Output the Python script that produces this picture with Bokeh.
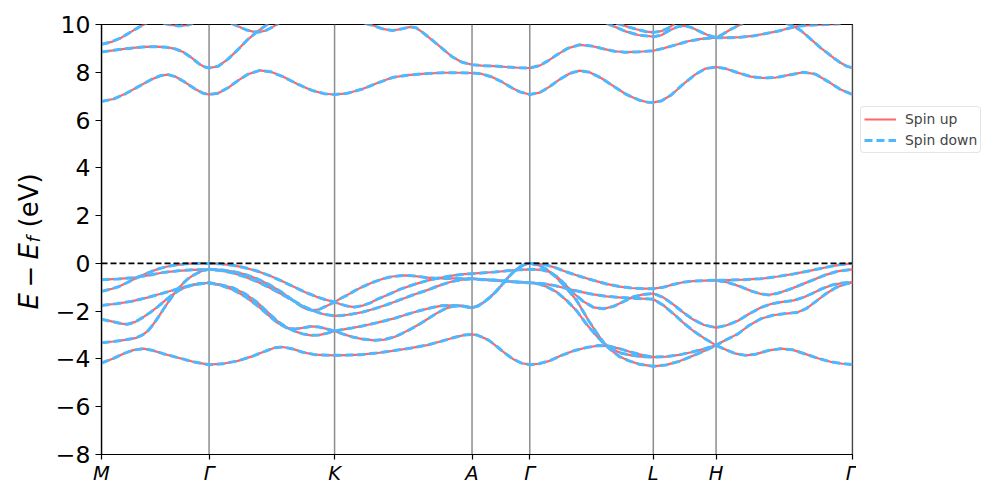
import math
from bokeh.plotting import figure
from bokeh.layouts import row
from bokeh.models import Range1d, FixedTicker, Span, Legend, LegendItem, Label
from bokeh.embed import file_html
from bokeh.resources import INLINE

# high-symmetry points along the k-path
kpt_pos = [0.00, 1.08, 2.34, 3.72, 4.30, 5.54, 6.17, 7.54]
kpt_labels = ["M", "Γ", "K", "A", "Γ", "L", "H", "Γ"]
y_ticks = [-8, -6, -4, -2, 0, 2, 4, 6, 8, 10]
y_tick_labels = ["−8", "−6", "−4", "−2", "0", "2", "4", "6", "8", "10"]
series_labels = ["Spin up", "Spin down"]

# valence bands (k, E - Ef)
b1 = [(0.00,-1.17),(0.09,-1.08),(0.17,-0.98),(0.25,-0.82),(0.33,-0.65),(0.42,-0.48),(0.50,-0.34),(0.58,-0.22),(0.66,-0.13),(0.74,-0.07),(0.84,-0.02),(0.96,0.0),(1.08,0.0),
      (1.20,-0.02),(1.32,-0.08),(1.44,-0.18),(1.56,-0.32),(1.68,-0.50),(1.80,-0.72),(1.92,-0.96),(2.04,-1.20),(2.16,-1.40),(2.25,-1.52),(2.34,-1.62),
      (2.40,-1.71),(2.47,-1.79),(2.54,-1.83),(2.62,-1.77),(2.70,-1.65),(2.77,-1.50),(2.87,-1.32),(3.00,-1.08),(3.14,-0.88),(3.27,-0.72),(3.40,-0.60),(3.54,-0.50),(3.64,-0.45),(3.72,-0.43),
      (3.82,-0.40),(3.95,-0.36),(4.07,-0.31),(4.19,-0.27),(4.30,-0.25),
      (4.42,-0.27),(4.50,-0.36),(4.58,-0.58),(4.66,-0.90),(4.74,-1.25),(4.84,-1.60),(4.94,-1.84),(5.04,-1.90),(5.14,-1.80),(5.24,-1.60),(5.34,-1.40),(5.44,-1.30),(5.54,-1.26),
      (5.64,-1.42),(5.74,-1.72),(5.84,-2.05),(5.94,-2.35),(6.05,-2.58),(6.17,-2.69),
      (6.27,-2.60),(6.39,-2.40),(6.50,-2.12),(6.62,-1.85),(6.72,-1.70),(6.82,-1.62),(6.95,-1.55),(7.05,-1.42),(7.14,-1.25),(7.24,-1.05),(7.34,-0.90),(7.44,-0.82),(7.54,-0.78)]

b2 = [(0.00,-0.68),(0.17,-0.65),(0.32,-0.60),(0.47,-0.50),(0.62,-0.38),(0.77,-0.31),(0.92,-0.27),(1.08,-0.25),
      (1.20,-0.27),(1.32,-0.34),(1.44,-0.46),(1.56,-0.64),(1.68,-0.88),(1.80,-1.18),(1.90,-1.48),(1.98,-1.72),(2.05,-1.90),(2.12,-1.97),(2.19,-1.92),(2.26,-1.78),(2.34,-1.62),
      (2.40,-1.47),(2.47,-1.32),(2.54,-1.15),(2.62,-0.98),(2.72,-0.80),(2.82,-0.65),(2.92,-0.55),(3.04,-0.50),(3.15,-0.53),(3.27,-0.60),(3.39,-0.63),(3.52,-0.63),(3.62,-0.64),(3.72,-0.64),
      (3.82,-0.67),(3.95,-0.70),(4.07,-0.74),(4.19,-0.78),(4.30,-0.81),
      (4.42,-0.84),(4.54,-0.92),(4.67,-1.05),(4.80,-1.18),(4.94,-1.30),(5.07,-1.38),(5.22,-1.43),(5.38,-1.47),(5.54,-1.50),
      (5.64,-1.75),(5.74,-2.10),(5.84,-2.48),(5.94,-2.82),(6.05,-3.13),(6.17,-3.43),
      (6.27,-3.20),(6.39,-2.95),(6.50,-2.60),(6.62,-2.32),(6.74,-2.17),(6.87,-2.10),(6.99,-2.05),(7.08,-1.88),(7.17,-1.60),(7.27,-1.28),(7.37,-1.02),(7.47,-0.86),(7.54,-0.80)]

b3 = [(0.00,-3.32),(0.12,-3.27),(0.24,-3.20),(0.34,-3.13),(0.41,-3.00),(0.47,-2.81),(0.52,-2.55),(0.57,-2.25),(0.62,-1.93),(0.67,-1.62),(0.72,-1.33),(0.77,-1.06),(0.82,-0.83),(0.87,-0.64),(0.92,-0.50),(0.97,-0.39),(1.02,-0.30),(1.08,-0.25),
      (1.20,-0.30),(1.32,-0.40),(1.44,-0.56),(1.56,-0.76),(1.68,-1.00),(1.80,-1.27),(1.92,-1.55),(2.02,-1.78),(2.12,-1.97),(2.22,-2.12),(2.34,-2.20),
      (2.42,-2.18),(2.52,-2.12),(2.62,-2.04),(2.74,-1.90),(2.87,-1.72),(3.00,-1.52),(3.14,-1.30),(3.27,-1.12),(3.39,-0.93),(3.50,-0.78),(3.60,-0.69),(3.72,-0.64),
      (3.82,-0.68),(3.95,-0.71),(4.07,-0.75),(4.19,-0.79),(4.30,-0.81),
      (4.39,-0.86),(4.47,-0.98),(4.57,-1.20),(4.67,-1.55),(4.77,-1.98),(4.87,-2.55),(4.95,-2.94),(5.05,-3.38),(5.12,-3.64),(5.20,-3.90),(5.29,-4.07),(5.40,-4.22),(5.54,-4.31),
      (5.67,-4.25),(5.80,-4.10),(5.92,-3.90),(6.05,-3.67),(6.17,-3.43),
      (6.27,-3.62),(6.37,-3.78),(6.47,-3.85),(6.57,-3.80),(6.70,-3.64),(6.82,-3.57),(6.94,-3.62),(7.07,-3.80),(7.20,-3.98),(7.32,-4.12),(7.44,-4.20),(7.54,-4.23)]

b4 = [(0.00,-1.76),(0.15,-1.69),(0.30,-1.59),(0.47,-1.42),(0.64,-1.22),(0.80,-1.02),(0.97,-0.86),(1.08,-0.81),
      (1.20,-0.90),(1.32,-1.02),(1.44,-1.27),(1.56,-1.62),(1.67,-2.05),(1.77,-2.43),(1.86,-2.68),(1.94,-2.84),(2.02,-2.95),(2.10,-3.01),(2.18,-3.00),(2.26,-2.93),(2.34,-2.83),
      (2.42,-2.77),(2.52,-2.70),(2.62,-2.62),(2.77,-2.48),(2.94,-2.30),(3.07,-2.13),(3.20,-1.97),(3.32,-1.85),(3.42,-1.77),(3.54,-1.76),(3.63,-1.80),(3.72,-1.86),
      (3.78,-1.78),(3.84,-1.62),(3.90,-1.42),(3.96,-1.18),(4.02,-0.90),(4.08,-0.60),(4.14,-0.34),(4.20,-0.15),(4.25,-0.04),(4.30,0.00),
      (4.39,-0.02),(4.47,-0.07),(4.57,-0.20),(4.67,-0.36),(4.80,-0.54),(4.94,-0.71),(5.07,-0.86),(5.20,-0.97),(5.32,-1.03),(5.44,-1.06),(5.54,-1.06),
      (5.64,-1.00),(5.74,-0.88),(5.84,-0.79),(5.94,-0.74),(6.05,-0.72),(6.17,-0.71),
      (6.30,-0.70),(6.45,-0.68),(6.62,-0.64),(6.79,-0.55),(6.95,-0.44),(7.12,-0.30),(7.29,-0.15),(7.42,-0.05),(7.54,0.00)]

b5 = [(0.00,-2.34),(0.10,-2.43),(0.20,-2.52),(0.26,-2.55),(0.34,-2.45),(0.42,-2.25),(0.50,-2.02),(0.57,-1.80),(0.64,-1.55),(0.71,-1.32),(0.78,-1.12),(0.86,-0.97),(0.94,-0.87),(1.08,-0.81),
      (1.20,-0.92),(1.32,-1.10),(1.44,-1.38),(1.56,-1.75),(1.67,-2.15),(1.77,-2.50),(1.86,-2.70),(1.94,-2.75),(2.02,-2.70),(2.10,-2.64),(2.18,-2.66),(2.26,-2.74),(2.34,-2.83),
      (2.42,-2.95),(2.52,-3.08),(2.62,-3.17),(2.74,-3.22),(2.84,-3.19),(2.94,-3.08),(3.02,-2.93),(3.10,-2.76),(3.19,-2.55),(3.27,-2.34),(3.36,-2.10),(3.44,-1.92),(3.52,-1.80),(3.60,-1.77),(3.66,-1.80),(3.72,-1.86),
      (3.78,-1.78),(3.84,-1.62),(3.90,-1.42),(3.96,-1.18),(4.02,-0.90),(4.08,-0.60),(4.14,-0.34),(4.20,-0.15),(4.25,-0.04),(4.30,0.00),
      (4.39,-0.08),(4.47,-0.25),(4.57,-0.60),(4.67,-1.05),(4.77,-1.55),(4.89,-2.39),(4.97,-2.90),(5.05,-3.36),(5.14,-3.62),(5.22,-3.76),(5.32,-3.85),(5.42,-3.90),(5.54,-3.92),
      (5.67,-3.90),(5.80,-3.83),(5.92,-3.72),(6.05,-3.58),(6.17,-3.43)]

b6 = [(0.00,-4.17),(0.12,-3.98),(0.22,-3.78),(0.32,-3.63),(0.42,-3.57),(0.52,-3.65),(0.62,-3.78),(0.77,-3.95),(0.92,-4.12),(1.08,-4.24),
      (1.22,-4.20),(1.37,-4.08),(1.52,-3.88),(1.64,-3.68),(1.74,-3.53),(1.82,-3.50),(1.92,-3.58),(2.02,-3.72),(2.14,-3.82),(2.34,-3.85),
      (2.47,-3.84),(2.60,-3.82),(2.77,-3.75),(2.94,-3.65),(3.10,-3.55),(3.27,-3.42),(3.42,-3.25),(3.54,-3.10),(3.64,-3.00),(3.72,-2.97),
      (3.77,-3.00),(3.83,-3.10),(3.89,-3.22),(3.97,-3.48),(4.05,-3.76),(4.13,-4.00),(4.22,-4.18),(4.30,-4.24),
      (4.39,-4.20),(4.50,-4.08),(4.62,-3.85),(4.74,-3.66),(4.87,-3.52),(4.99,-3.44),(5.09,-3.46),(5.20,-3.57),(5.32,-3.72),(5.44,-3.85),(5.54,-3.92)]

b7 = [(6.17,-0.71),(6.29,-0.80),(6.40,-0.95),(6.52,-1.15),(6.62,-1.28),(6.70,-1.32),(6.79,-1.25),(6.90,-1.10),(7.02,-0.90),(7.14,-0.70),(7.27,-0.48),(7.40,-0.32),(7.54,-0.25)]

# conduction bands
c1 = [(0.00,6.78),(0.12,6.88),(0.24,7.10),(0.37,7.40),(0.50,7.70),(0.60,7.87),(0.67,7.90),(0.74,7.82),(0.84,7.58),(0.94,7.30),(1.02,7.12),(1.08,7.07),
      (1.17,7.12),(1.27,7.35),(1.37,7.65),(1.47,7.92),(1.59,8.08),(1.70,8.02),(1.82,7.82),(1.97,7.50),(2.12,7.23),(2.24,7.10),(2.34,7.07),
      (2.47,7.12),(2.62,7.30),(2.77,7.55),(2.92,7.78),(3.07,7.88),(3.22,7.93),(3.42,7.98),(3.57,7.98),(3.72,7.97),
      (3.82,7.93),(3.92,7.80),(4.02,7.60),(4.12,7.35),(4.20,7.18),(4.30,7.07),
      (4.40,7.15),(4.50,7.40),(4.60,7.70),(4.70,7.95),(4.80,8.07),(4.90,8.00),(5.02,7.75),(5.14,7.42),(5.27,7.07),(5.40,6.83),(5.48,6.75),(5.54,6.74),
      (5.62,6.80),(5.72,7.05),(5.84,7.50),(5.96,7.90),(6.06,8.15),(6.17,8.22),
      (6.27,8.15),(6.39,7.98),(6.52,7.82),(6.64,7.76),(6.77,7.78),(6.92,7.90),(7.05,8.00),(7.17,7.92),(7.30,7.60),(7.42,7.28),(7.54,7.07)]
c2 = [(0.00,8.85),(0.12,8.92),(0.27,9.00),(0.42,9.06),(0.54,9.07),(0.65,9.05),(0.74,8.98),(0.82,8.85),(0.90,8.62),(0.98,8.35),(1.03,8.23),(1.08,8.18),
      (1.17,8.25),(1.27,8.55),(1.37,8.95),(1.47,9.38),(1.57,9.72),(1.67,10.02),(1.74,10.20)]
c3 = [(2.64,10.05),(2.72,9.97),(2.82,9.82),(2.92,9.75),(3.02,9.82),(3.10,9.90),(3.16,9.86),(3.22,9.68),(3.32,9.35),(3.42,9.00),(3.52,8.65),(3.62,8.42),(3.72,8.32),
      (3.82,8.28),(3.95,8.26),(4.07,8.22),(4.19,8.19),(4.30,8.18),
      (4.40,8.28),(4.49,8.50),(4.58,8.75),(4.68,9.00),(4.80,9.15),(4.92,9.10),(5.04,8.98),(5.15,8.88),(5.25,8.84),(5.37,8.85),(5.47,8.88),(5.54,8.90),
      (5.64,9.00),(5.77,9.15),(5.89,9.30),(6.02,9.40),(6.17,9.45),
      (6.30,9.45),(6.42,9.47),(6.54,9.52),(6.67,9.62),(6.80,9.73),(6.89,9.83),(6.99,9.93),(7.12,9.97),(7.27,10.00),(7.42,10.03)]
c4 = [(6.87,10.05),(6.94,9.95),(7.02,9.75),(7.09,9.50),(7.15,9.28),(7.22,9.02),(7.29,8.80),(7.35,8.60),(7.42,8.40),(7.48,8.26),(7.54,8.18)]
c5 = [(5.17,10.05),(5.27,9.92),(5.37,9.80),(5.47,9.70),(5.54,9.67),(5.62,9.72),(5.69,9.85),(5.75,10.02)]
c6 = [(5.07,10.05),(5.17,9.88),(5.27,9.70),(5.39,9.56),(5.54,9.49),(5.62,9.55),(5.70,9.75),(5.78,9.90),(5.85,9.95),(5.92,9.88),(6.00,9.72),(6.08,9.57),(6.17,9.45),
      (6.24,9.60),(6.32,9.80),(6.40,9.97),(6.44,10.05)]
c7 = [(0.00,9.17),(0.10,9.27),(0.20,9.45),(0.30,9.70),(0.38,9.90),(0.44,10.03),(0.48,10.12)]
c8 = [(0.62,10.05),(0.70,9.98),(0.78,9.94),(0.86,9.97),(0.92,10.05)]
c9 = [(1.30,10.05),(1.37,9.93),(1.45,9.78),(1.52,9.70),(1.58,9.68),(1.65,9.75),(1.72,9.90),(1.78,10.05)]

bands = [b1, b2, b3, b4, b5, b6, b7, c1, c2, c3, c4, c5, c6, c7, c8, c9]
xs = [[pt[0] for pt in b] for b in bands]
ys = [[pt[1] for pt in b] for b in bands]

RED = "#ff6666"
BLUE = "#4db8ff"
FONT = "DejaVu Sans"
H = 490

# ---------------- main band-structure figure ----------------
p = figure(width=804, height=H, x_range=Range1d(0, 7.54), y_range=Range1d(-8, 10),
           output_backend="svg", toolbar_location=None,
           min_border_left=46, min_border_right=4, min_border_top=24, min_border_bottom=36)
p.background_fill_color = "white"
p.border_fill_color = "white"
p.xgrid.visible = False
p.ygrid.visible = False
p.outline_line_color = "black"
p.outline_line_width = 1.2
p.outline_line_alpha = 1.0

for k in kpt_pos:
    p.add_layout(Span(location=k, dimension="height", line_color="#8c8c8c", line_width=1.5, level="underlay"))

line_up = dict(line_color=RED, line_width=2.2, line_join="round")
line_dn = dict(line_color=BLUE, line_width=3, line_dash="8 4", line_join="round")
p.multi_line(xs, ys, **line_up)
p.multi_line(xs, ys, **line_dn)

p.add_layout(Span(location=0, dimension="width", line_color="black", line_width=1.8, line_dash="6 3"))

p.xaxis.ticker = FixedTicker(ticks=kpt_pos)
p.xaxis.major_label_overrides = {k: lab for k, lab in zip(kpt_pos, kpt_labels)}
p.xaxis.major_label_text_font = FONT
p.xaxis.major_label_text_font_style = "italic"
p.xaxis.major_label_text_font_size = "19.5px"
p.xaxis.major_label_text_color = "black"
p.xaxis.major_label_standoff = 2
p.xaxis.major_tick_out = 5
p.xaxis.major_tick_in = 0
p.xaxis.minor_tick_line_color = None

p.yaxis.ticker = FixedTicker(ticks=y_ticks)
p.yaxis.major_label_overrides = {v: lab for v, lab in zip(y_ticks, y_tick_labels)}
p.yaxis.major_label_text_font = FONT
p.yaxis.major_label_text_font_size = "23.5px"
p.yaxis.major_label_text_color = "black"
p.yaxis.major_label_standoff = 5
p.yaxis.major_tick_out = 6
p.yaxis.major_tick_in = 0
p.yaxis.minor_tick_line_color = None

for ax in (p.xaxis, p.yaxis):
    ax.axis_line_color = "black"
    ax.axis_line_width = 1.2
    ax.major_tick_line_color = "black"
    ax.major_tick_line_width = 1.2

# ---------------- narrow strip holding the y-axis title:  E − E_f (eV) ----------------
t = figure(width=52, height=H, x_axis_type=None, y_axis_type=None,
           output_backend="svg", toolbar_location=None, min_border=0)
t.outline_line_color = None
t.background_fill_color = "white"
t.border_fill_color = "white"

ylab_parts = [
    ("E", "italic", "26px", 28, 145),
    ("−", "normal", "26px", 28, 167),
    ("E", "italic", "26px", 28, 195),
    ("f", "italic", "18px", 33, 212),
    ("(eV)", "normal", "26px", 28, 227),
]
for txt, style, size, sx, sy in ylab_parts:
    t.add_layout(Label(x=sx, y=sy, x_units="screen", y_units="screen", text=txt,
                       text_font=FONT, text_font_style=style, text_font_size=size,
                       text_color="black", angle=math.pi / 2,
                       text_align="left", text_baseline="alphabetic"))

# ---------------- strip on the right holding the legend ----------------
g = figure(width=136, height=H, x_axis_type=None, y_axis_type=None,
           x_range=Range1d(0, 1), y_range=Range1d(0, 1),
           output_backend="svg", toolbar_location=None, min_border=0)
g.outline_line_color = None
g.background_fill_color = "white"
g.border_fill_color = "white"
# legend keys: renderers whose (dummy) points lie outside the strip's visible range
k_up = g.line([5, 6], [5, 6], **line_up)
k_dn = g.line([5, 6], [5, 6], **line_dn)

legend = Legend(items=[LegendItem(label=series_labels[0], renderers=[k_up]),
                       LegendItem(label=series_labels[1], renderers=[k_dn])],
                location=(4, 301))
legend.border_line_color = "#cccccc"
legend.border_line_width = 1
legend.background_fill_color = "white"
legend.background_fill_alpha = 0.9
legend.label_text_font = FONT
legend.label_text_font_size = "13.9px"
legend.glyph_width = 32
legend.glyph_height = 18
legend.label_height = 18
legend.label_standoff = 9
legend.padding = 3
legend.spacing = 3
legend.margin = 0
if "border_radius" in Legend.properties():
    legend.border_radius = 4
g.add_layout(legend)

layout = row(t, p, g)
open("out.html", "w").write(file_html(layout, INLINE))
